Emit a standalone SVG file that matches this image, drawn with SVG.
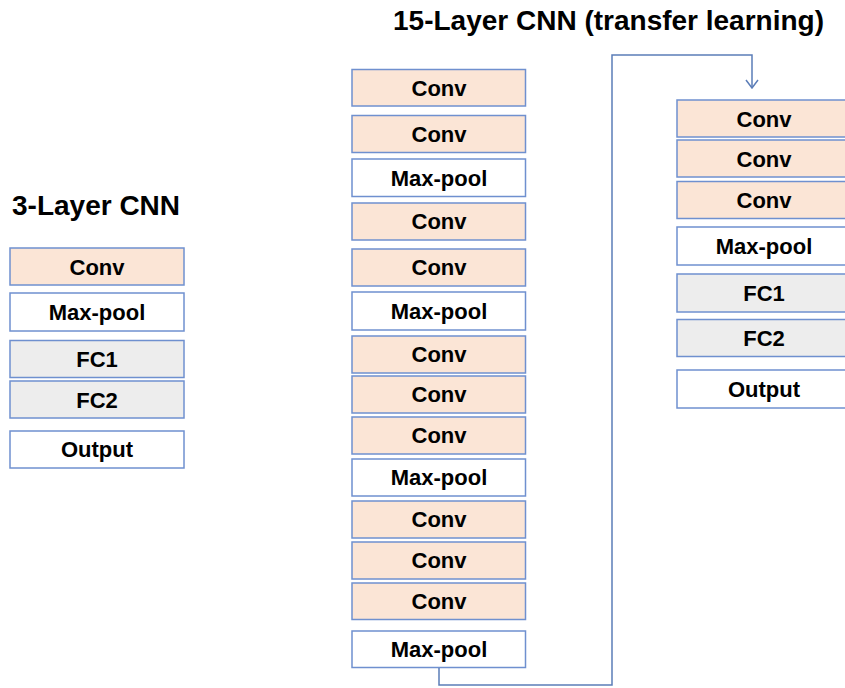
<svg xmlns="http://www.w3.org/2000/svg" width="845" height="688" viewBox="0 0 845 688">
<style>
.b{stroke:#6F90CF;stroke-width:1.5}
.conv{fill:#FBE5D6}
.mp{fill:#FFFFFF}
.fc{fill:#EDEDED}
.t{font-family:"Liberation Sans",Arial,sans-serif;font-weight:bold;font-size:22px;fill:#000;text-anchor:middle}
.h{font-family:"Liberation Sans",Arial,sans-serif;font-weight:bold;font-size:28px;fill:#000}
.c{fill:none;stroke:#5B7DB8;stroke-width:1.5}
</style>
<defs>
<marker id="ah" markerWidth="10" markerHeight="14" refX="9" refY="7" orient="auto" markerUnits="userSpaceOnUse" viewBox="0 0 10 14">
<path d="M1,1 L9,7 L1,13" fill="none" stroke="#5B7DB8" stroke-width="1.5"/>
</marker>
</defs>
<rect width="845" height="688" fill="#fff"/>
<text class="h" x="12" y="215">3-Layer CNN</text>
<text class="h" x="393" y="30">15-Layer CNN (transfer learning)</text>

<g id="left">
<g id="l1"><rect class="b conv" x="10" y="248" width="174" height="37"/><text class="t" x="97" y="274.5">Conv</text></g>
<g id="l2"><rect class="b mp" x="10" y="293" width="174" height="38"/><text class="t" x="97" y="320">Max-pool</text></g>
<g id="l3"><rect class="b fc" x="10" y="340.5" width="174" height="37"/><text class="t" x="97" y="366.5">FC1</text></g>
<g id="l4"><rect class="b fc" x="10" y="381" width="174" height="37"/><text class="t" x="97" y="407.5">FC2</text></g>
<g id="l5"><rect class="b mp" x="10" y="431" width="174" height="37"/><text class="t" x="97" y="457">Output</text></g>
</g>

<g id="mid">
<g id="m1"><rect class="b conv" x="352" y="69.5" width="173.5" height="36.5"/><text class="t" x="439" y="95.5">Conv</text></g>
<g id="m2"><rect class="b conv" x="352" y="115.5" width="173.5" height="37"/><text class="t" x="439" y="141.5">Conv</text></g>
<g id="m3"><rect class="b mp" x="352" y="159" width="173.5" height="37.5"/><text class="t" x="439" y="185.5">Max-pool</text></g>
<g id="m4"><rect class="b conv" x="352" y="203" width="173.5" height="37"/><text class="t" x="439" y="229">Conv</text></g>
<g id="m5"><rect class="b conv" x="352" y="249" width="173.5" height="37"/><text class="t" x="439" y="275">Conv</text></g>
<g id="m6"><rect class="b mp" x="352" y="292" width="173.5" height="38"/><text class="t" x="439" y="318.5">Max-pool</text></g>
<g id="m7"><rect class="b conv" x="352" y="336" width="173.5" height="37"/><text class="t" x="439" y="362">Conv</text></g>
<g id="m8"><rect class="b conv" x="352" y="376" width="173.5" height="37"/><text class="t" x="439" y="402">Conv</text></g>
<g id="m9"><rect class="b conv" x="352" y="417" width="173.5" height="37"/><text class="t" x="439" y="443">Conv</text></g>
<g id="m10"><rect class="b mp" x="352" y="459" width="173.5" height="37"/><text class="t" x="439" y="485">Max-pool</text></g>
<g id="m11"><rect class="b conv" x="352" y="501" width="173.5" height="37"/><text class="t" x="439" y="527">Conv</text></g>
<g id="m12"><rect class="b conv" x="352" y="542" width="173.5" height="37"/><text class="t" x="439" y="568">Conv</text></g>
<g id="m13"><rect class="b conv" x="352" y="583" width="173.5" height="36.5"/><text class="t" x="439" y="609">Conv</text></g>
<g id="m14"><rect class="b mp" x="352" y="631" width="173.5" height="36.5"/><text class="t" x="439" y="657">Max-pool</text></g>
</g>

<g id="right">
<g id="r1"><rect class="b conv" x="677" y="100" width="174" height="37"/><text class="t" x="764" y="126.5">Conv</text></g>
<g id="r2"><rect class="b conv" x="677" y="140" width="174" height="37"/><text class="t" x="764" y="166.5">Conv</text></g>
<g id="r3"><rect class="b conv" x="677" y="181.5" width="174" height="37"/><text class="t" x="764" y="208">Conv</text></g>
<g id="r4"><rect class="b mp" x="677" y="227" width="174" height="38"/><text class="t" x="764" y="254">Max-pool</text></g>
<g id="r5"><rect class="b fc" x="677" y="274" width="174" height="38"/><text class="t" x="764" y="301">FC1</text></g>
<g id="r6"><rect class="b fc" x="677" y="319.5" width="174" height="37"/><text class="t" x="764" y="346">FC2</text></g>
<g id="r7"><rect class="b mp" x="677" y="370" width="174" height="38"/><text class="t" x="764" y="397">Output</text></g>
</g>

<g id="connectors">
<path class="c" d="M439,668 V685 H612 V55 H752 V88" marker-end="url(#ah)"/>
</g>
</svg>
